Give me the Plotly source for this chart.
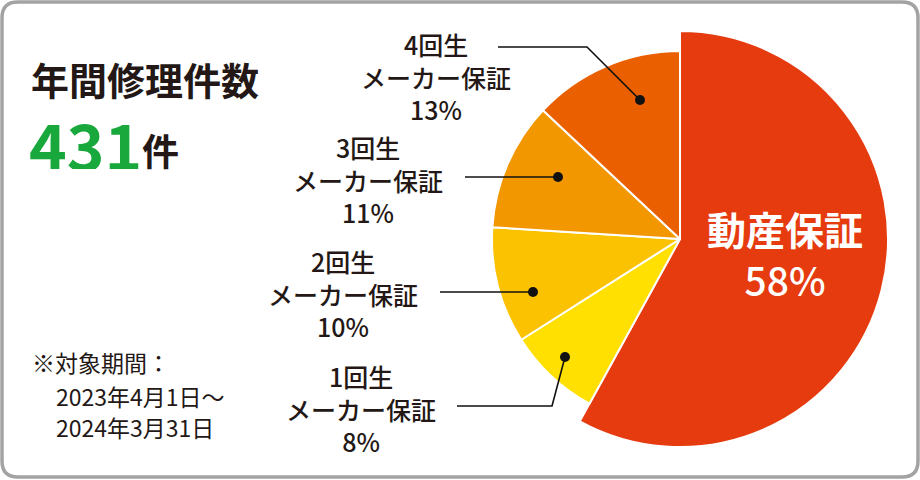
import plotly.graph_objects as go

# ---- data ----
categories = ["動産保証", "1回生メーカー保証", "2回生メーカー保証", "3回生メーカー保証", "4回生メーカー保証"]
years = [None, 1, 2, 3, 4]
values = [58, 8, 10, 11, 13]
total_count = 431
title_text = "年間修理件数"
unit_text = "件"
note_lines = ["※対象期間：", "2023年4月1日～", "2024年3月31日"]

# ---- style ----
colors = ["#E63A0F", "#FFE000", "#FAC200", "#F39700", "#EA6000"]
W, H = 920, 480
CX, CY = 680, 239
R_BIG, R_SMALL = 208, 188
FONT = "Noto Sans CJK JP"
DARK = "#231815"

def dom(r):
    return dict(x=[(CX - r) / W, (CX + r) / W], y=[1 - (CY + r) / H, 1 - (CY - r) / H])

fig = go.Figure()
big_colors = [colors[0]] + ["rgba(0,0,0,0)"] * (len(values) - 1)
big_lines = ["white"] + ["rgba(0,0,0,0)"] * (len(values) - 1)
fig.add_trace(go.Pie(
    labels=categories, values=values, sort=False, direction="clockwise", rotation=0,
    marker=dict(colors=big_colors, line=dict(color=big_lines, width=2)),
    textinfo="none", hoverinfo="skip", showlegend=False, domain=dom(R_BIG)))
small_colors = ["rgba(0,0,0,0)"] + colors[1:]
small_lines = ["rgba(0,0,0,0)"] + ["white"] * (len(values) - 1)
fig.add_trace(go.Pie(
    labels=categories, values=values, sort=False, direction="clockwise", rotation=0,
    marker=dict(colors=small_colors, line=dict(color=small_lines, width=2)),
    textinfo="none", hoverinfo="skip", showlegend=False, domain=dom(R_SMALL)))

annotations = []
shapes = []
def ann(x, y, text, size, color=DARK, weight=400, xanchor="center", family=FONT, h=None):
    d = dict(x=x, y=y, xref="x", yref="y", text=text, showarrow=False, xanchor=xanchor, yanchor="middle",
             font=dict(family=family, size=size, color=color, weight=weight))
    if h:
        d["height"] = h
    annotations.append(d)

# label block centers (x, middle line y)
label_pos = {1: (361, 408), 2: (343, 293), 3: (368, 179), 4: (436, 76)}
leaders = {
    4: [(498, 47), (587, 47), (640, 100)],
    3: [(465, 177), (558, 177)],
    2: [(440, 292), (533, 292)],
    1: [(457, 406), (552, 406), (565, 357)],
}
for i in range(1, len(values)):
    yr = years[i]
    lx, ly = label_pos[yr]
    ann(lx, ly, f"{yr}回生<br>メーカー保証<br>{values[i]}%", 25, weight=500)
    pts = leaders[yr]
    path = "M " + " L ".join(f"{px},{py}" for px, py in pts)
    shapes.append(dict(type="path", path=path, xref="x", yref="y", layer="above",
                       line=dict(color="#111111", width=1.6)))
    dx, dy = pts[-1]
    shapes.append(dict(type="circle", xref="x", yref="y", x0=dx - 5, x1=dx + 5, y0=dy - 5, y1=dy + 5,
                       layer="above", fillcolor="#111111", line=dict(width=0)))

ann(785, 253, f"<b>{categories[0]}</b><br><span style='font-weight:500'>{values[0]}%</span>", 39,
    color="white", weight=500)

ann(29, 78, title_text, 38, weight=700, xanchor="left", h=44)
ann(27, 143, f"{total_count}", 64, color="#19A83B", weight=700, xanchor="left", h=52)
ann(140, 150, unit_text, 37, weight=700, xanchor="left", h=40)

ann(30, 362, note_lines[0], 23, xanchor="left", h=26)
ann(54, 396, note_lines[1], 23, xanchor="left", h=26)
ann(54, 427, note_lines[2], 23, xanchor="left", h=26)

x0, y0, x1, y1, rr = 2, 2, 918, 477, 16
path = (f"M {x0+rr},{y0} L {x1-rr},{y0} Q {x1},{y0} {x1},{y0+rr} L {x1},{y1-rr} Q {x1},{y1} {x1-rr},{y1} "
        f"L {x0+rr},{y1} Q {x0},{y1} {x0},{y1-rr} L {x0},{y0+rr} Q {x0},{y0} {x0+rr},{y0} Z")
shapes.append(dict(type="path", path=path, xref="x", yref="y", line=dict(color="#A3A3A3", width=3.5), layer="above"))

fig.update_layout(
    width=W, height=H, margin=dict(l=0, r=0, t=0, b=0),
    paper_bgcolor="white", plot_bgcolor="rgba(0,0,0,0)",
    xaxis=dict(range=[0, W], visible=False, fixedrange=True),
    yaxis=dict(range=[H, 0], visible=False, fixedrange=True),
    annotations=annotations, shapes=shapes, showlegend=False,
)
fig.write_html("out.html", config={"displayModeBar": False, "staticPlot": True},
               post_script="document.body.style.margin='0';document.body.style.overflow='hidden';")
